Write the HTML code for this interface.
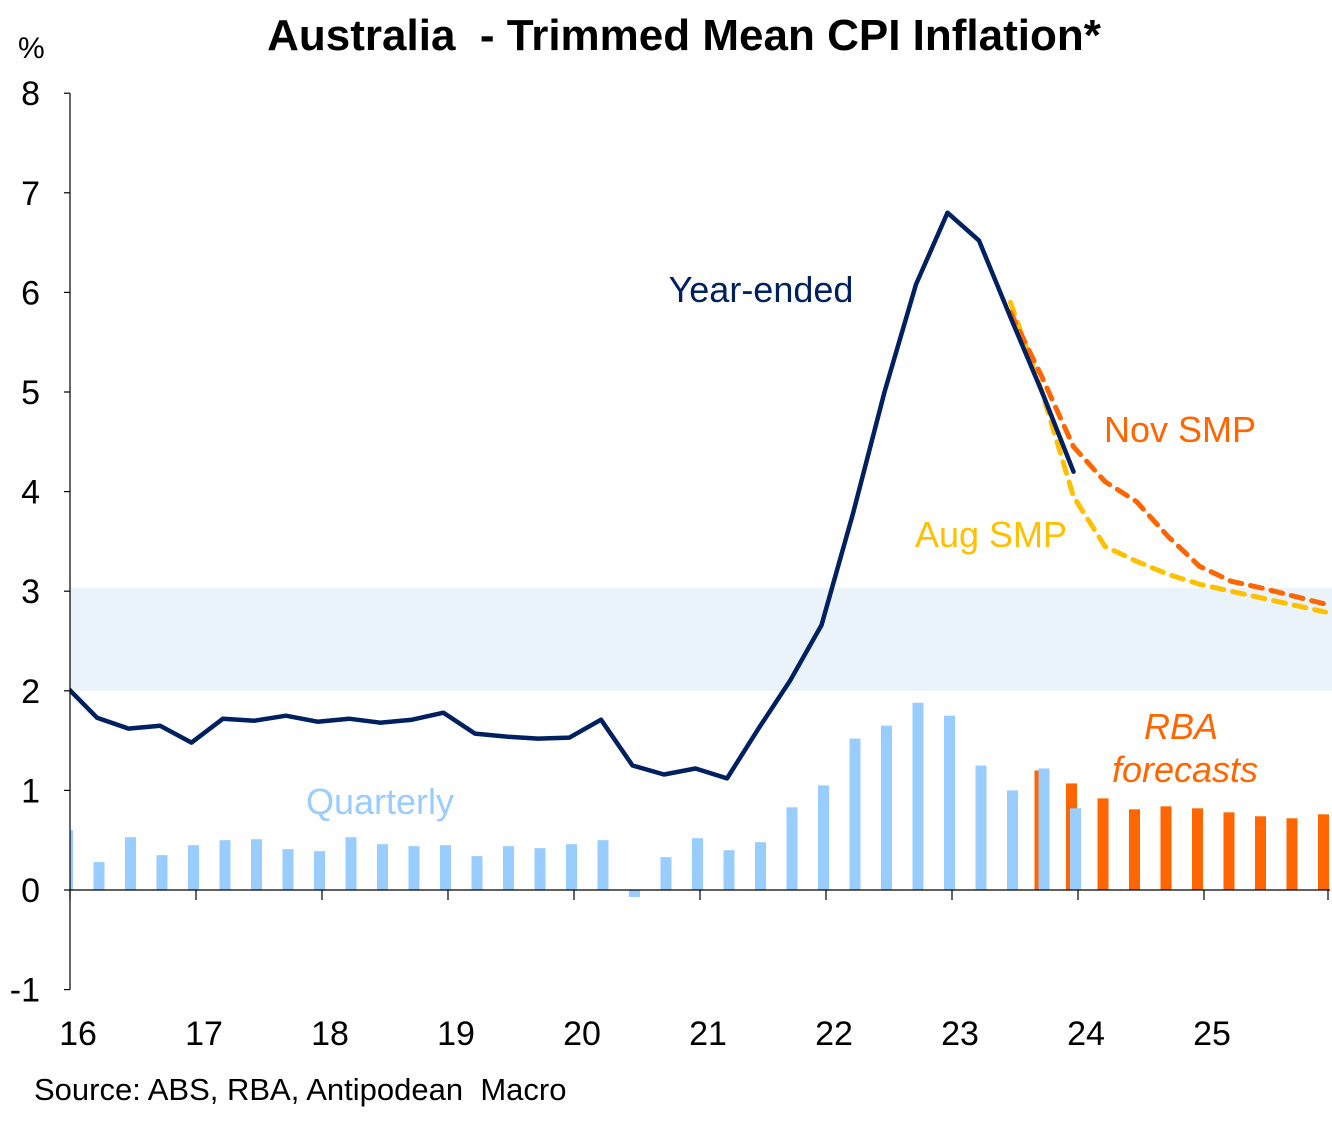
<!DOCTYPE html>
<html><head><meta charset="utf-8"><style>
html,body{margin:0;padding:0;background:#fff;}
svg{display:block;font-family:"Liberation Sans",Arial,sans-serif;}
</style></head><body>
<svg id="chart" width="1332" height="1121" viewBox="0 0 1332 1121" xmlns="http://www.w3.org/2000/svg">
<text x="684" y="50" text-anchor="middle" font-size="44" font-weight="bold" style="white-space:pre">Australia  - Trimmed Mean CPI Inflation*</text>
<text x="18" y="58" font-size="30">%</text>
<g id="plot"></g>
<text x="34" y="1100" font-size="31" style="white-space:pre">Source: ABS, RBA, Antipodean  Macro</text>
</svg>
<script>
const yTicks=[-1,0,1,2,3,4,5,6,7,8];
const yearLabels=["16","17","18","19","20","21","22","23","24","25"];
const quarterly=[0.6,0.28,0.53,0.35,0.45,0.5,0.51,0.41,0.39,0.53,0.46,0.44,0.45,0.34,0.44,0.42,0.46,0.5,-0.07,0.33,0.52,0.4,0.48,0.83,1.05,1.52,1.65,1.88,1.75,1.25,1.0,1.22,0.82];
const rbaStart=31;
const rbaForecasts=[1.2,1.07,0.92,0.81,0.84,0.82,0.78,0.74,0.72,0.76];
const yearEnded=[2.05,1.73,1.62,1.65,1.48,1.72,1.7,1.75,1.69,1.72,1.68,1.71,1.78,1.57,1.54,1.52,1.53,1.71,1.25,1.16,1.22,1.12,1.62,2.1,2.66,3.78,5.0,6.08,6.8,6.52,5.75,5.0,4.2];
const smpStart=30;
const novSMP=[5.8,5.15,4.45,4.1,3.9,3.55,3.25,3.1,3.03,2.95,2.87];
const augSMP=[5.9,5.0,3.95,3.45,3.3,3.17,3.07,3.0,2.93,2.86,2.79];
const targetBand=[2,3.03];

const NS="http://www.w3.org/2000/svg";
const X0=70,X1=1332,QW=31.5;
const y=v=>890-v*99.6;
const xq=i=>67.5+QW*i;
const plot=document.getElementById('plot');
function mk(tag,attrs,parent){const e=document.createElementNS(NS,tag);for(const k in attrs)e.setAttribute(k,attrs[k]);(parent||plot).appendChild(e);return e;}
const defs=mk('defs',{});
const cp=mk('clipPath',{id:'clip'},defs);
mk('rect',{x:X0,y:0,width:X1-X0,height:1121},cp);

const band=mk('rect',{x:X0,y:y(targetBand[1]),width:X1-X0,height:y(targetBand[0])-y(targetBand[1]),fill:'#EAF2FA'});



const g=mk('g',{'clip-path':'url(#clip)'});
quarterly.forEach((v,i)=>{
  const r=mk('rect',{x:xq(i)-5.5,y:Math.min(y(v),y(0)),width:11,height:Math.abs(y(v)-y(0)),fill:'#99CCFF'},g);
  
  
});
rbaForecasts.forEach((v,j)=>{
  const r=mk('rect',{x:xq(rbaStart+j)-4-5.5,y:y(v),width:11,height:y(0)-y(v),fill:'#FF6600'},g);
  
  
});
for(let i=rbaStart;i<quarterly.length;i++){
  const r=mk('rect',{x:xq(i)-5.5,y:y(quarterly[i]),width:11,height:y(0)-y(quarterly[i]),fill:'#99CCFF'},g);
  
  
}
function pts(arr,start){return arr.map((v,i)=>(xq(start+i)-2).toFixed(1)+','+y(v).toFixed(1)).join(' ');}
const la=mk('polyline',{points:pts(augSMP,smpStart),fill:'none',stroke:'#FFC000','stroke-width':5,'stroke-dasharray':'12,9','stroke-linecap':'round'},g);


const ln=mk('polyline',{points:pts(novSMP,smpStart),fill:'none',stroke:'#FF6600','stroke-width':5,'stroke-dasharray':'12,9','stroke-linecap':'round'},g);


const le=mk('polyline',{points:pts(yearEnded,0),fill:'none',stroke:'#002060','stroke-width':4.5,'stroke-linejoin':'round','stroke-linecap':'round'},g);



const ya=mk('line',{x1:X0,y1:y(8),x2:X0,y2:y(-1),stroke:'#000','stroke-width':1.2});


const xa=mk('line',{x1:X0,y1:y(0),x2:X1-2,y2:y(0),stroke:'#000','stroke-width':1.2});


yTicks.forEach(t=>{
  mk('line',{x1:X0-6,y1:y(t),x2:X0,y2:y(t),stroke:'#000','stroke-width':1.2});
  const tx=mk('text',{x:X0-30,y:y(t)+12,'text-anchor':'end','font-size':34});
  tx.textContent=t;
  
  
});
for(let k=0;k<=10;k++){
  const xx=X0+126*k-(k==10?2:0);
  mk('line',{x1:xx,y1:y(0),x2:xx,y2:y(0)+10,stroke:'#000','stroke-width':1.2});
}
yearLabels.forEach((l,k)=>{
  const tx=mk('text',{x:X0+126*k+8,y:1045,'text-anchor':'middle','font-size':34});
  tx.textContent=l;
  
  
});
function lab(txt,x,yy,fill,name,italic){
  const t=mk('text',{x:x,y:yy,'font-size':36,fill:fill,'text-anchor':'middle'});
  if(italic)t.setAttribute('font-style','italic');
  t.textContent=txt;
  
  
}
lab('Year-ended',761,302,'#002060','year-ended-label');
lab('Nov SMP',1180,442,'#FF6600','nov-smp-label');
lab('Aug SMP',991,547,'#FFC000','aug-smp-label');
lab('Quarterly',380,814,'#99CCFF','quarterly-label');
lab('RBA',1181,739,'#FF6600','rba-label',true);
lab('forecasts',1185,782,'#FF6600','forecasts-label',true);
</script>
</body></html>
